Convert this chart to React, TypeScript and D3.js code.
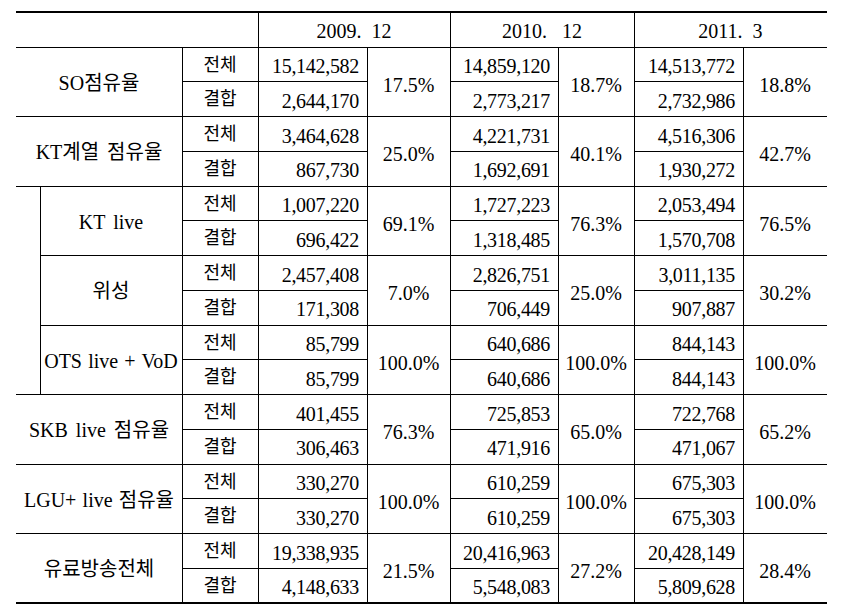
import React, { useEffect, useRef } from 'react';
import * as d3 from 'd3';

const periods = ['2009.\u00a0 12', '2010.\u00a0\u00a0 12', '2011.\u00a0 3'];
const labels = ['SO점유율', 'KT계열 점유율', 'KT live', '위성', 'OTS live + VoD', 'SKB live 점유율', 'LGU+ live 점유율', '유료방송전체'];
const indented = [false, false, true, true, true, false, false, false];
const kinds = ['전체', '결합'];

const total2009 = [15142582, 3464628, 1007220, 2457408, 85799, 401455, 330270, 19338935];
const combined2009 = [2644170, 867730, 696422, 171308, 85799, 306463, 330270, 4148633];
const share2009 = ['17.5%', '25.0%', '69.1%', '7.0%', '100.0%', '76.3%', '100.0%', '21.5%'];

const total2010 = [14859120, 4221731, 1727223, 2826751, 640686, 725853, 610259, 20416963];
const combined2010 = [2773217, 1692691, 1318485, 706449, 640686, 471916, 610259, 5548083];
const share2010 = ['18.7%', '40.1%', '76.3%', '25.0%', '100.0%', '65.0%', '100.0%', '27.2%'];

const total2011 = [14513772, 4516306, 2053494, 3011135, 844143, 722768, 675303, 20428149];
const combined2011 = [2732986, 1930272, 1570708, 907887, 844143, 471067, 675303, 5809628];
const share2011 = ['18.8%', '42.7%', '76.5%', '30.2%', '100.0%', '65.2%', '100.0%', '28.4%'];

const totals = [total2009, total2010, total2011];
const combined = [combined2009, combined2010, combined2011];
const shares = [share2009, share2010, share2011];

const App = () => {
  const svgRef = useRef<SVGSVGElement>(null);

  useEffect(() => {
    const width = 852;
    const height = 607;
    const svg = d3.select(svgRef.current).attr('width', width).attr('height', height);
    svg.selectAll('*').remove();

    const left = 16, right = 827, top = 12, headBottom = 47, bottom = 603;
    const indentX = 40, labelEnd = 182, kindEnd = 258;
    // per period: [start, number end, share end]
    const cols = [[258, 367, 450], [450, 558, 634], [634, 743, 827]];

    const y = d3.scaleLinear().domain([0, labels.length * 2]).range([headBottom, bottom]);
    const fmt = d3.format(',');
    const font = "'Liberation Serif', 'Noto Sans CJK KR', serif";

    const g = svg.append('g').attr('font-family', font).attr('fill', '#000');
    const lines = svg.append('g').attr('stroke', '#000').attr('stroke-width', 1).attr('shape-rendering', 'crispEdges');

    const hline = (x1: number, x2: number, yy: number, w = 1) =>
      lines.append('line').attr('x1', x1).attr('x2', x2).attr('y1', yy).attr('y2', yy).attr('stroke-width', w);
    const vline = (xx: number, y1: number, y2: number) =>
      lines.append('line').attr('x1', xx).attr('x2', xx).attr('y1', y1).attr('y2', y2);

    // outer / header
    hline(left, right, top, 2);
    hline(left, right, bottom, 2);
    hline(left, right, headBottom);
    vline(kindEnd, top, bottom);
    cols.forEach(([s, n, e], i) => {
      if (i > 0) vline(s, top, bottom);
      vline(n, headBottom, bottom);
      g.append('text')
        .attr('x', (s + e) / 2)
        .attr('y', (top + headBottom) / 2 + 1)
        .attr('text-anchor', 'middle')
        .attr('dominant-baseline', 'central')
        .attr('font-size', 20)
        .text(periods[i]);
    });
    vline(labelEnd, headBottom, bottom);

    // indent bar spanning indented groups
    const firstInd = indented.indexOf(true);
    const lastInd = indented.lastIndexOf(true);
    vline(indentX, y(firstInd * 2), y((lastInd + 1) * 2));

    labels.forEach((label, i) => {
      const y1 = y(i * 2 + 1), y2 = y(i * 2 + 2);
      const x0 = indented[i] ? indentX : left;
      if (i < labels.length - 1) {
        const nextInd = indented[i + 1] && indented[i];
        hline(nextInd ? indentX : left, right, y2);
      }
      hline(labelEnd, cols[0][1], y1);
      hline(cols[1][0], cols[1][1], y1);
      hline(cols[2][0], cols[2][1], y1);

      g.append('text')
        .attr('x', (x0 + labelEnd) / 2)
        .attr('y', y1 + 1)
        .attr('text-anchor', 'middle')
        .attr('dominant-baseline', 'central')
        .attr('font-size', 20)
        .attr('word-spacing', label.includes('+ ') ? 1.2 : 3)
        .text(label);

      kinds.forEach((k, j) => {
        g.append('text')
          .attr('x', (labelEnd + kindEnd) / 2)
          .attr('y', y(i * 2 + j) + 17.5)
          .attr('text-anchor', 'middle')
          .attr('dominant-baseline', 'central')
          .attr('font-size', 18)
          .text(k);
      });

      cols.forEach(([, n, e], p) => {
        [totals[p][i], combined[p][i]].forEach((v, j) => {
          g.append('text')
            .attr('x', n - 8)
            .attr('y', y(i * 2 + j) + 19)
            .attr('text-anchor', 'end')
            .attr('dominant-baseline', 'central')
            .attr('font-size', 20)
            .attr('letter-spacing', -0.3)
            .text(fmt(v));
        });
        g.append('text')
          .attr('x', (n + e) / 2)
          .attr('y', y1 + 3)
          .attr('text-anchor', 'middle')
          .attr('dominant-baseline', 'central')
          .attr('font-size', 20)
          .text(shares[p][i]);
      });
    });
  }, []);

  return (
    <svg ref={svgRef} style={{ position: 'absolute', left: 0, top: 0, background: '#fff' }}></svg>
  );
};

export default App;
